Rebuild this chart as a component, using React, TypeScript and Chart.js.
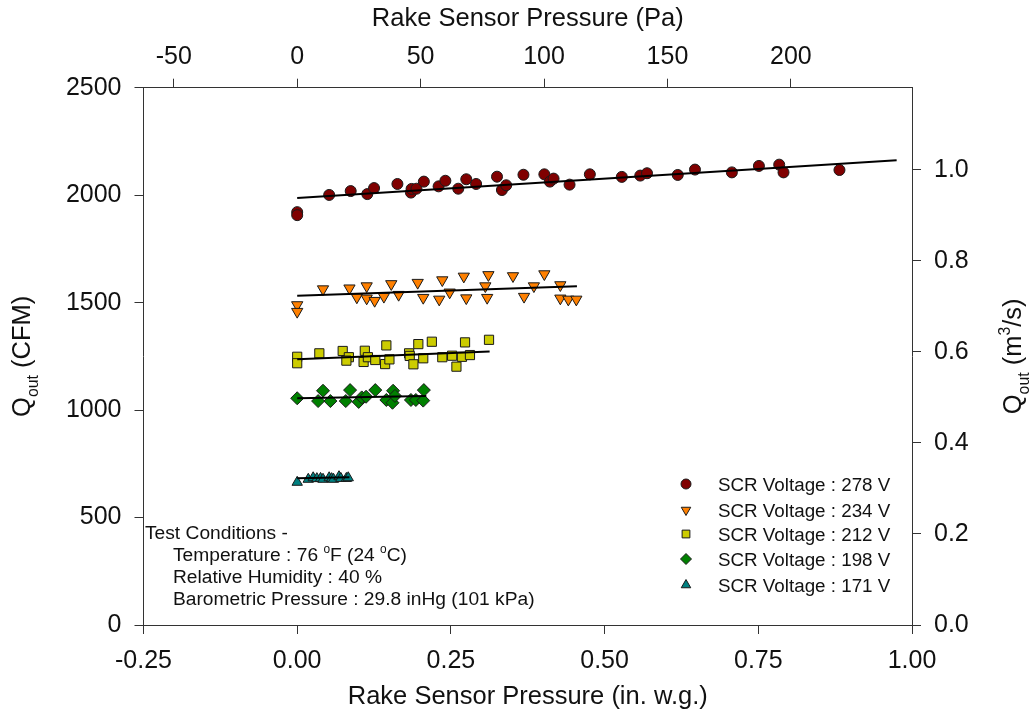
import React, { useEffect, useRef } from 'react';
import { Chart, registerables } from 'chart.js';

Chart.register(...registerables);

const PA_PER_INWG = 249.089;
const CFM_PER_M3S = 2118.88;

const bottomTicks = [-0.25, 0, 0.25, 0.5, 0.75, 1.0];
const topTicks = [-50, 0, 50, 100, 150, 200];
const leftTicks = [0, 500, 1000, 1500, 2000, 2500];
const rightTicks = [0, 0.2, 0.4, 0.6, 0.8, 1.0];

const seriesLabels = [
  'SCR Voltage : 278 V',
  'SCR Voltage : 234 V',
  'SCR Voltage : 212 V',
  'SCR Voltage : 198 V',
  'SCR Voltage : 171 V',
];

const x278 = [0, 0, 0.052, 0.087, 0.114, 0.125, 0.163, 0.185, 0.186, 0.194, 0.206, 0.23, 0.241, 0.262, 0.275, 0.291, 0.325, 0.333, 0.34, 0.368, 0.402, 0.411, 0.417, 0.443, 0.476, 0.528, 0.558, 0.569, 0.619, 0.647, 0.707, 0.751, 0.784, 0.791, 0.882];
const y278 = [1921, 1907, 2001, 2019, 2005, 2033, 2052, 2012, 2029, 2030, 2063, 2041, 2067, 2030, 2074, 2052, 2086, 2024, 2046, 2095, 2097, 2063, 2077, 2049, 2097, 2085, 2091, 2102, 2094, 2119, 2106, 2136, 2142, 2106, 2117];

const x234 = [0, 0, 0.042, 0.085, 0.097, 0.113, 0.113, 0.126, 0.141, 0.153, 0.165, 0.196, 0.205, 0.231, 0.236, 0.248, 0.271, 0.275, 0.306, 0.309, 0.311, 0.351, 0.369, 0.385, 0.402, 0.428, 0.428, 0.441, 0.454];
const y234 = [1489, 1458, 1563, 1567, 1525, 1577, 1520, 1509, 1528, 1587, 1537, 1593, 1523, 1515, 1605, 1548, 1622, 1521, 1577, 1523, 1629, 1624, 1528, 1577, 1633, 1582, 1520, 1515, 1515];

const x212 = [0, 0, 0.036, 0.074, 0.084, 0.08, 0.11, 0.108, 0.115, 0.127, 0.145, 0.143, 0.15, 0.182, 0.183, 0.189, 0.197, 0.205, 0.219, 0.236, 0.252, 0.259, 0.268, 0.273, 0.281, 0.312];
const y212 = [1248, 1218, 1264, 1275, 1246, 1230, 1276, 1224, 1246, 1233, 1301, 1214, 1236, 1264, 1252, 1213, 1307, 1241, 1318, 1246, 1253, 1202, 1248, 1315, 1256, 1327];

const x198 = [0, 0.042, 0.034, 0.054, 0.079, 0.086, 0.1, 0.105, 0.112, 0.127, 0.145, 0.156, 0.155, 0.159, 0.185, 0.193, 0.205, 0.206];
const y198 = [1055, 1090, 1042, 1042, 1042, 1093, 1038, 1059, 1062, 1093, 1047, 1090, 1034, 1066, 1047, 1047, 1044, 1093];

const x171 = [0, 0.018, 0.026, 0.032, 0.038, 0.042, 0.052, 0.056, 0.059, 0.068, 0.071, 0.08, 0.083];
const y171 = [664, 678, 685, 681, 682, 678, 685, 681, 678, 690, 682, 682, 685];

const fitX278 = [0, 0.975];
const fitY278 = [1987, 2163];
const fitX234 = [0, 0.455];
const fitY234 = [1532, 1576];
const fitX212 = [0, 0.313];
const fitY212 = [1236, 1272];
const fitX198 = [0, 0.21];
const fitY198 = [1055, 1066];
const fitX171 = [0, 0.085];
const fitY171 = [683, 688];

const colors = ['#800000', '#ff8000', '#cccc00', '#008000', '#008080'];
const styles = ['circle', 'triangle', 'rect', 'rectRot', 'triangle'];
const rotations = [0, 180, 0, 0, 0];
const radii = [5.5, 6.5, 6.5, 6.5, 6];

const FONT = '"Liberation Sans", Arial, Helvetica, sans-serif';
const TEXT = '#111';
const AXIS = '#333';

const pts = (xs: number[], ys: number[]) => xs.map((x, i) => ({ x, y: ys[i] }));

type Piece = { t: string; k?: 'sub' | 'sup' };

function drawPieces(ctx: CanvasRenderingContext2D, pieces: Piece[], size: number, x: number, y: number, align: 'left' | 'center') {
  const sm = size * 0.62;
  let total = 0;
  const widths = pieces.map((p) => {
    ctx.font = `${p.k ? sm : size}px ${FONT}`;
    const w = ctx.measureText(p.t).width;
    total += w;
    return w;
  });
  let cx = align === 'center' ? x - total / 2 : x;
  ctx.textAlign = 'left';
  ctx.textBaseline = 'alphabetic';
  pieces.forEach((p, i) => {
    ctx.font = `${p.k ? sm : size}px ${FONT}`;
    const dy = p.k === 'sub' ? size * 0.3 : p.k === 'sup' ? -size * 0.42 : 0;
    ctx.fillText(p.t, cx, y + dy);
    cx += widths[i];
  });
}

function drawMarker(ctx: CanvasRenderingContext2D, style: string, rotation: number, r: number, x: number, y: number, fill: string) {
  ctx.save();
  ctx.translate(x, y);
  ctx.rotate((rotation * Math.PI) / 180);
  ctx.beginPath();
  if (style === 'circle') {
    ctx.arc(0, 0, r, 0, Math.PI * 2);
  } else if (style === 'triangle') {
    for (let k = 0; k < 3; k++) {
      const a = (k * 2 * Math.PI) / 3;
      const px = Math.sin(a) * r;
      const py = -Math.cos(a) * r;
      if (k === 0) ctx.moveTo(px, py);
      else ctx.lineTo(px, py);
    }
    ctx.closePath();
  } else if (style === 'rect') {
    const s = r * Math.SQRT1_2;
    ctx.rect(-s, -s, 2 * s, 2 * s);
  } else {
    ctx.moveTo(-r, 0);
    ctx.lineTo(0, r);
    ctx.lineTo(r, 0);
    ctx.lineTo(0, -r);
    ctx.closePath();
  }
  ctx.fillStyle = fill;
  ctx.fill();
  ctx.lineWidth = 1;
  ctx.strokeStyle = '#1a1a1a';
  ctx.stroke();
  ctx.restore();
}

const textPlugin = {
  id: 'customText',
  afterDraw(chart: any) {
    const ctx: CanvasRenderingContext2D = chart.ctx;
    const { left, right, top, bottom } = chart.chartArea;
    const midX = (left + right) / 2;
    const midY = (top + bottom) / 2;
    ctx.save();
    ctx.fillStyle = TEXT;

    drawPieces(ctx, [{ t: 'Rake Sensor Pressure (Pa)' }], 25.5, midX, 26, 'center');
    drawPieces(ctx, [{ t: 'Rake Sensor Pressure (in. w.g.)' }], 25.5, midX, 704, 'center');

    ctx.save();
    ctx.translate(30, midY);
    ctx.rotate(-Math.PI / 2);
    drawPieces(ctx, [{ t: 'Q' }, { t: 'out', k: 'sub' }, { t: ' (CFM)' }], 25.5, 0, 0, 'center');
    ctx.restore();

    ctx.save();
    ctx.translate(1021, midY);
    ctx.rotate(-Math.PI / 2);
    drawPieces(ctx, [{ t: 'Q' }, { t: 'out', k: 'sub' }, { t: ' (m' }, { t: '3', k: 'sup' }, { t: '/s)' }], 25.5, 0, 0, 'center');
    ctx.restore();

    // legend
    const rowsY = [484, 510, 534, 559, 585];
    seriesLabels.forEach((lab, i) => {
      drawMarker(ctx, styles[i], rotations[i], i === 0 ? 5 : 5.5, 686, rowsY[i], colors[i]);
      ctx.fillStyle = TEXT;
      drawPieces(ctx, [{ t: lab }], 18.8, 718, rowsY[i] + 6.6, 'left');
    });

    // test conditions
    const fs = 19.2;
    drawPieces(ctx, [{ t: 'Test Conditions -' }], fs, 145, 539, 'left');
    drawPieces(ctx, [{ t: 'Temperature : 76 ' }, { t: 'o', k: 'sup' }, { t: 'F (24 ' }, { t: 'o', k: 'sup' }, { t: 'C)' }], fs, 173, 561, 'left');
    drawPieces(ctx, [{ t: 'Relative Humidity : 40 %' }], fs, 173, 583, 'left');
    drawPieces(ctx, [{ t: 'Barometric Pressure : 29.8 inHg (101 kPa)' }], fs, 173, 605, 'left');

    ctx.restore();
  },
};

function axisOpts(position: string, min: number, max: number, tickVals: number[], fmt: (v: number) => string, size: number, padding: number) {
  return {
    type: 'linear',
    position,
    min,
    max,
    afterBuildTicks: (scale: any) => {
      scale.ticks = tickVals.map((v) => ({ value: v }));
    },
    afterFit: (scale: any) => {
      if (position === 'top' || position === 'bottom') scale.height = size;
      else scale.width = size;
    },
    border: { display: true, color: AXIS, width: 1 },
    grid: { drawOnChartArea: false, drawTicks: true, tickLength: 9, color: AXIS, tickColor: AXIS, lineWidth: 1 },
    ticks: {
      color: TEXT,
      font: { family: FONT, size: 25 },
      padding,
      maxRotation: 0,
      autoSkip: false,
      callback: (v: any) => fmt(Number(v)),
    },
  };
}

export default function App() {
  const ref = useRef<HTMLCanvasElement | null>(null);
  useEffect(() => {
    if (!ref.current) return;
    const seriesX = [x278, x234, x212, x198, x171];
    const seriesY = [y278, y234, y212, y198, y171];
    const fitXs = [fitX278, fitX234, fitX212, fitX198, fitX171];
    const fitYs = [fitY278, fitY234, fitY212, fitY198, fitY171];

    const datasets: any[] = [];
    fitXs.forEach((fx, i) => {
      datasets.push({
        type: 'line',
        label: 'fit ' + seriesLabels[i],
        data: pts(fx, fitYs[i]),
        borderColor: '#000',
        borderWidth: 2,
        pointRadius: 0,
        fill: false,
        order: 0,
        xAxisID: 'x',
        yAxisID: 'y',
      });
    });
    seriesX.forEach((sx, i) => {
      datasets.push({
        type: 'scatter',
        label: seriesLabels[i],
        data: pts(sx, seriesY[i]),
        pointStyle: styles[i],
        rotation: rotations[i],
        pointRotation: rotations[i],
        pointRadius: radii[i],
        backgroundColor: colors[i],
        borderColor: '#1a1a1a',
        borderWidth: 1,
        order: 1 + i,
        xAxisID: 'x',
        yAxisID: 'y',
      });
    });

    const chart = new Chart(ref.current, {
      type: 'scatter',
      data: { datasets },
      options: {
        responsive: false,
        animation: false,
        events: [],
        layout: { padding: 0 },
        plugins: { legend: { display: false }, tooltip: { enabled: false }, title: { display: false } },
        scales: {
          x: axisOpts('bottom', -0.25, 1.0, bottomTicks, (v) => v.toFixed(2), 90, 12),
          x2: axisOpts('top', -0.25 * PA_PER_INWG, 1.0 * PA_PER_INWG, topTicks, (v) => String(Math.round(v)), 87.7, 7),
          y: axisOpts('left', 0, 2500, leftTicks, (v) => String(Math.round(v)), 143.5, 13),
          y2: axisOpts('right', 0, 2500 / CFM_PER_M3S, rightTicks, (v) => v.toFixed(1), 120, 13),
        } as any,
      },
      plugins: [textPlugin],
    } as any);
    return () => chart.destroy();
  }, []);

  return (
    <div style={{ position: 'fixed', left: 0, top: 0, width: 1032, height: 715, background: '#fff' }}>
      <canvas ref={ref} width={1032} height={715} style={{ display: 'block' }} />
    </div>
  );
}
